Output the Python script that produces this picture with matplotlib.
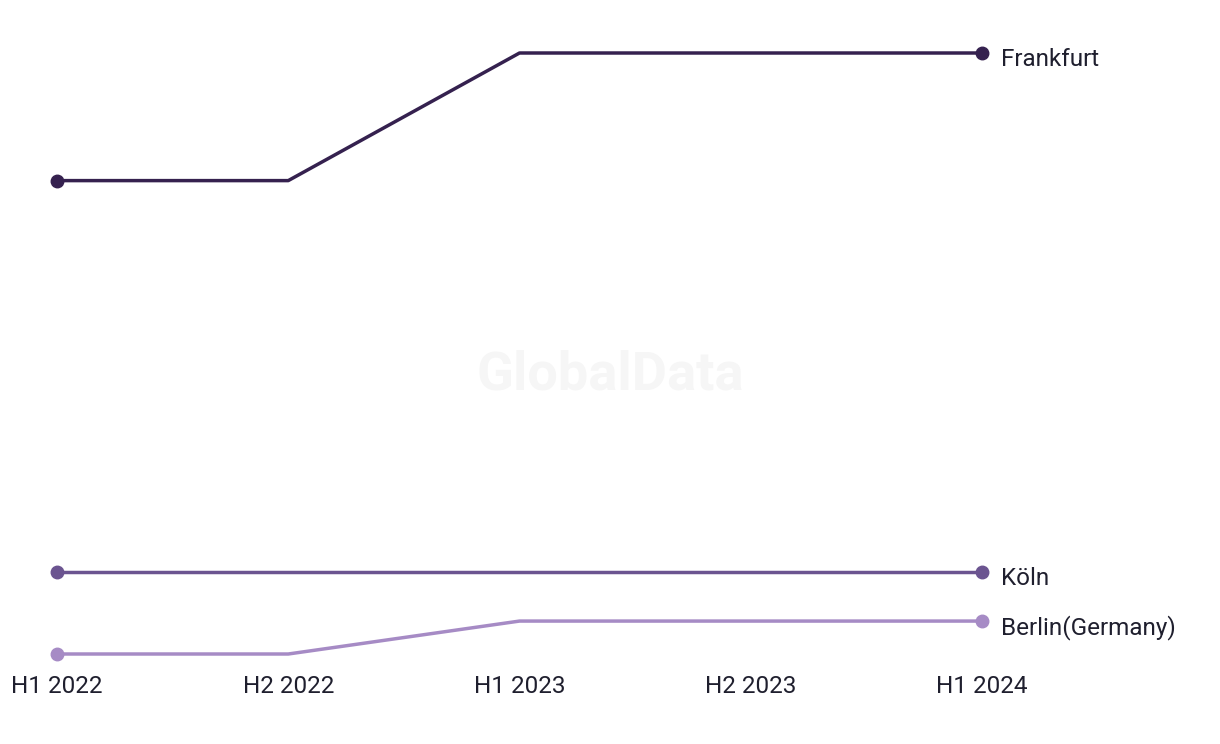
import matplotlib.pyplot as plt

periods = ["H1 2022", "H2 2022", "H1 2023", "H2 2023", "H1 2024"]
frankfurt = [61.5, 61.5, 77, 77, 77]
koeln = [14, 14, 14, 14, 14]
berlin = [4, 4, 8, 8, 8]

series = [
    ("Frankfurt", frankfurt, "#35214f"),
    ("Köln", koeln, "#6b5490"),
    ("Berlin(Germany)", berlin, "#a68bc5"),
]

plt.rcParams['font.family'] = ['Roboto', 'DejaVu Sans']

fig = plt.figure(figsize=(12.2, 7.44), dpi=100)
# axes spans the data area: x 57..982 px, y 53..654 px
ax = fig.add_axes([57 / 1220, 1 - 654 / 744, (982 - 57) / 1220, (654 - 53) / 744])
x = list(range(len(periods)))

for name, vals, col in series:
    ax.plot(x, vals, color=col, lw=2.5, marker="o", ms=9, markevery=[0, len(x) - 1],
            clip_on=False, zorder=3)
    ax.annotate(name, xy=(x[-1], vals[-1]), xytext=(14, -5), textcoords="offset points",
                va="center", ha="left", fontsize=17.5, color="#1f1f2e")

ax.set_xlim(0, len(x) - 1)
ax.set_ylim(4, 77)
ax.set_xticks(x)
ax.set_xticklabels(periods, fontsize=17.5, color="#1f1f2e")
ax.tick_params(axis="x", length=0, pad=15)
ax.set_yticks([])
for s in ax.spines.values():
    s.set_visible(False)

fig.text(610 / 1220, 1 - 375 / 744, "GlobalData", ha="center", va="center",
         fontsize=39, fontweight="bold", color="#f6f6f6", zorder=0)

fig.savefig("out.png", dpi=100)
